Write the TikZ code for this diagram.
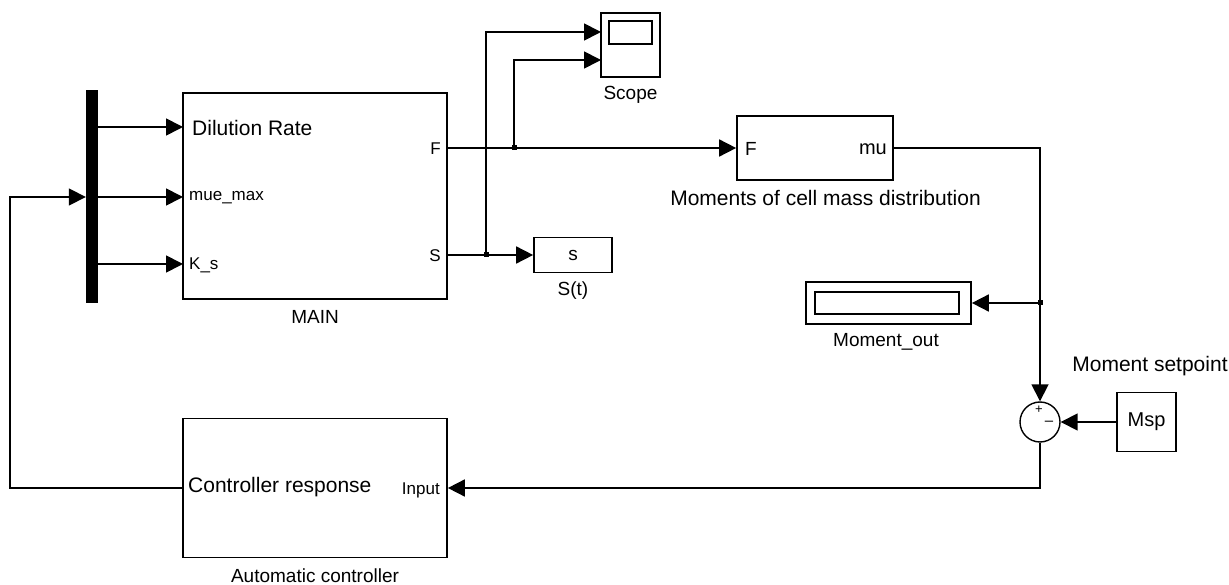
\documentclass[tikz,border=0pt]{standalone}
\usepackage{fontspec}
\setmainfont{Liberation Sans}
\usetikzlibrary{arrows.meta}
\newcommand{\fs}[1]{\fontsize{#1}{#1}\selectfont}
\tikzset{
  blk/.style={draw, line width=1.7pt, inner sep=0pt, fill=white},
  arr/.style={line width=1.7pt, -{Triangle[length=17pt,width=17pt]}},
  lbl/.style={inner sep=0pt, font=\fs{19}},
  big/.style={inner sep=0pt, font=\fs{21}},
  port/.style={inner sep=0pt, font=\fs{17}},
  dotpt/.style={fill=black, inner sep=0pt, minimum size=5pt},
}
\begin{document}
\begin{tikzpicture}[x=1pt,y=-1pt]
\useasboundingbox (0,0) rectangle (1229,585);
% blocks
\node[draw, fill=black, inner sep=0pt, minimum width=11pt, minimum height=212pt] (mux) at (91.5,196) {};
\node[blk, minimum width=264pt, minimum height=206pt] (main) at (315,196) {};
\node[blk, minimum width=264pt, minimum height=139pt] (ctrl) at (315,488) {};
\node[blk, minimum width=59pt, minimum height=64pt] (scope) at (630.5,45) {};
\node[draw, line width=1.4pt, inner sep=0pt, minimum width=43pt, minimum height=23pt] (scin) at (630.5,32.5) {};
\node[blk, minimum width=78pt, minimum height=35pt, font=\fs{19}] (st) at (573,255) {s};
\node[blk, minimum width=156pt, minimum height=64pt] (mom) at (815,148) {};
\node[blk, minimum width=165pt, minimum height=42pt] (disp) at (888.5,303) {};
\node[draw, line width=1.4pt, inner sep=0pt, minimum width=144pt, minimum height=22pt] (dispin) at (887,303) {};
\node[draw, circle, line width=1.4pt, inner sep=0pt, minimum size=40pt, fill=white] (sum) at (1040,422) {};
\node[blk, minimum width=59pt, minimum height=59pt, font=\fs{20}] (msp) at (1146.5,422) {Msp};
% texts inside blocks
\node[big, anchor=west] (tdil) at (192,128) {Dilution Rate};
\node[port, anchor=west] (tmue) at (189,198) {mue\_max};
\node[port, anchor=west] (tks) at (189,265) {K\_s};
\node[port, anchor=east] (tF) at (441,149) {F};
\node[port, anchor=east] (tS) at (441,256) {S};
\node[big, anchor=west] (tcr) at (188,487) {Controller response};
\node[port, anchor=east] (tin) at (440,490) {Input};
\node[inner sep=0pt, font=\fs{19}, anchor=west] (tmF) at (745,149) {F};
\node[inner sep=0pt, font=\fs{20}, anchor=east] (tmu) at (887,149) {mu};
\node[inner sep=0pt, font=\fs{13}] (plus) at (1039,410) {+};
\node[inner sep=0pt, font=\fs{15}] (minus) at (1049,423) {\textendash};
% labels under blocks
\node[lbl] (lmain) at (315,317) {MAIN};
\node[lbl, anchor=base] (lctrl) at (315,582) {Automatic controller};
\node[lbl] (lscope) at (630.5,95) {Scope};
\node[lbl] (lst) at (573,291) {S(t)};
\node[big] (lmom) at (825.5,198) {Moments of cell mass distribution};
\node[lbl] (ldisp) at (886,342) {Moment\_out};
\node[big] (lmsp) at (1150,366) {Moment setpoint};
% port coordinates
\coordinate (mi1) at (183,127);
\coordinate (mi2) at (183,197);
\coordinate (mi3) at (183,264);
\coordinate (mF) at (447,148);
\coordinate (mS) at (447,255);
\coordinate (sc1) at (601,32);
\coordinate (sc2) at (601,60);
\coordinate (fbup) at (10,197);
\node[dotpt] (bF) at (514,148) {};
\node[dotpt] (bS) at (486,255) {};
\node[dotpt] (bM) at (1040,303) {};
% connectors
\draw[arr] (mux.east |- mi1) -- (mi1);
\draw[arr] (mux.east |- mi2) -- (mi2);
\draw[arr] (mux.east |- mi3) -- (mi3);
\draw[arr] (ctrl.west) -| (fbup) -- (mux.west |- fbup);
\draw[arr] (mF) -- (mom.west);
\draw[arr] (mS) -- (st.west);
\draw[arr] (bF.center) |- (sc2);
\draw[arr] (bS.center) |- (sc1);
\draw[arr] (mom.east) -| (sum.north);
\draw[arr] (bM.center) -- (disp.east);
\draw[arr] (msp.west) -- (sum.east);
\draw[arr] (sum.south) |- (ctrl.east);
\end{tikzpicture}
\end{document}
